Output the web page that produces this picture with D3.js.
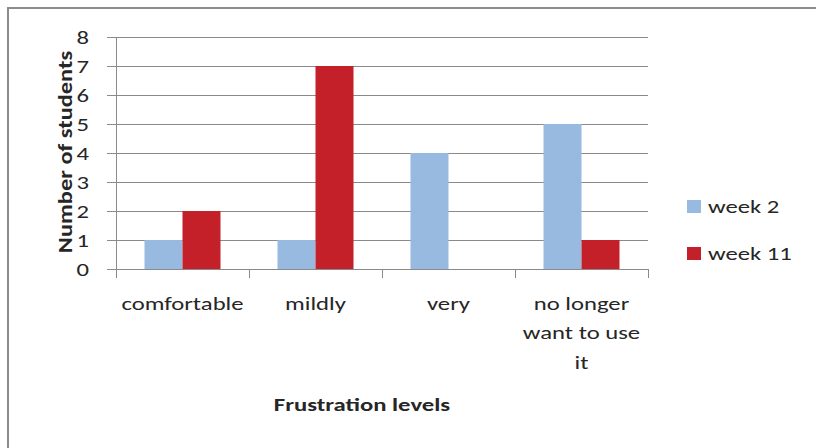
<!DOCTYPE html>
<html>
<head>
<meta charset="utf-8">
<script src="https://cdn.jsdelivr.net/npm/d3@7"></script>
<style>
  html, body { margin: 0; padding: 0; background: #fff; }
  svg { display: block; }
  text { font-family: Calibri, Carlito, Lato, "Open Sans", sans-serif; fill: #262626; }
</style>
</head>
<body>
<svg id="chart" width="816" height="448"></svg>
<script>
// Frustration levels reported by students, week 2 vs week 11
const categories = [["comfortable"], ["mildly"], ["very"], ["no longer", "want to use", "it"]];
const seriesNames = ["week 2", "week 11"];
const week2 = [1, 1, 4, 5];
const week11 = [2, 7, 0, 1];
const yTicks = [0, 1, 2, 3, 4, 5, 6, 7, 8];
const seriesColors = ["#98B9E0", "#C42029"];

// text is drawn slightly widened along its reading direction
const FONT = 19;
const STRETCH = 1.3;
const place = (x, y, extra = "", s = STRETCH) => `translate(${x},${y}) ${extra} scale(${s},1)`;

const svg = d3.select("#chart");

// chart frame
svg.append("path")
  .attr("d", "M8,448 V8 H816")
  .attr("fill", "none")
  .attr("stroke", "#8c8c8c")
  .attr("stroke-width", 2);

const plot = { left: 116, right: 648, top: 37, bottom: 269 };

const x = d3.scaleBand()
  .domain(d3.range(categories.length))
  .range([plot.left, plot.right])
  .padding(0);

const barW = x.bandwidth() / 3.5;
const xs = d3.scaleBand()
  .domain(d3.range(seriesNames.length))
  .range([0, barW * seriesNames.length]);

const y = d3.scaleLinear().domain([0, 8]).range([plot.bottom, plot.top]);

// horizontal gridlines with left tick marks
svg.append("g").selectAll("line")
  .data(yTicks)
  .join("line")
  .attr("x1", plot.left - 9)
  .attr("x2", plot.right)
  .attr("y1", d => Math.round(y(d)) + 0.5)
  .attr("y2", d => Math.round(y(d)) + 0.5)
  .attr("stroke", "#8a8a8a")
  .attr("stroke-width", 1);

// y axis line
svg.append("line")
  .attr("x1", plot.left + 0.5).attr("x2", plot.left + 0.5)
  .attr("y1", plot.top).attr("y2", plot.bottom)
  .attr("stroke", "#8a8a8a");

// y tick labels
svg.append("g").selectAll("text")
  .data(yTicks)
  .join("text")
  .attr("transform", d => place(plot.left - 27, y(d)))
  .attr("dy", "0.36em")
  .attr("text-anchor", "end")
  .attr("font-size", FONT)
  .text(d => d);

// bars
const series = [week2, week11];
series.forEach((vals, si) => {
  svg.append("g").selectAll("rect")
    .data(vals)
    .join("rect")
    .attr("x", (d, i) => x(i) + (x.bandwidth() - barW * 2) / 2 + xs(si))
    .attr("y", d => y(d))
    .attr("width", xs.bandwidth())
    .attr("height", d => y(0) - y(d))
    .attr("fill", seriesColors[si]);
});

// x axis baseline and category separators
svg.append("line")
  .attr("x1", plot.left).attr("x2", plot.right)
  .attr("y1", Math.round(y(0)) + 0.5).attr("y2", Math.round(y(0)) + 0.5)
  .attr("stroke", "#8a8a8a");
svg.append("g").selectAll("line")
  .data(d3.range(categories.length + 1))
  .join("line")
  .attr("x1", i => Math.round(i < categories.length ? x(i) : plot.right) + 0.5)
  .attr("x2", i => Math.round(i < categories.length ? x(i) : plot.right) + 0.5)
  .attr("y1", plot.bottom)
  .attr("y2", plot.bottom + 9)
  .attr("stroke", "#8a8a8a");

// category labels
const catText = svg.append("g").selectAll("text")
  .data(categories)
  .join("text")
  .attr("text-anchor", "middle")
  .attr("font-size", FONT)
  .attr("transform", (d, i) => place(x(i) + x.bandwidth() / 2, 310));
catText.selectAll("tspan")
  .data(d => d)
  .join("tspan")
  .attr("x", 0)
  .attr("dy", (d, i) => i === 0 ? 0 : 29.5)
  .text(d => d);

// axis titles
svg.append("text")
  .attr("transform", place(362, 411))
  .attr("text-anchor", "middle")
  .attr("font-size", FONT)
  .attr("font-weight", "bold")
  .text("Frustration levels");

svg.append("text")
  .attr("transform", place(72, 152, "rotate(-90)", 1.22))
  .attr("text-anchor", "middle")
  .attr("font-size", 20)
  .attr("font-weight", "bold")
  .text("Number of students");

// legend
const legend = svg.append("g").selectAll("g")
  .data(seriesNames)
  .join("g")
  .attr("transform", (d, i) => `translate(687,${200 + i * 47})`);
legend.append("rect")
  .attr("width", 14).attr("height", 13)
  .attr("fill", (d, i) => seriesColors[i]);
legend.append("text")
  .attr("transform", place(21, 13))
  .attr("font-size", FONT)
  .text(d => d);
</script>
</body>
</html>
